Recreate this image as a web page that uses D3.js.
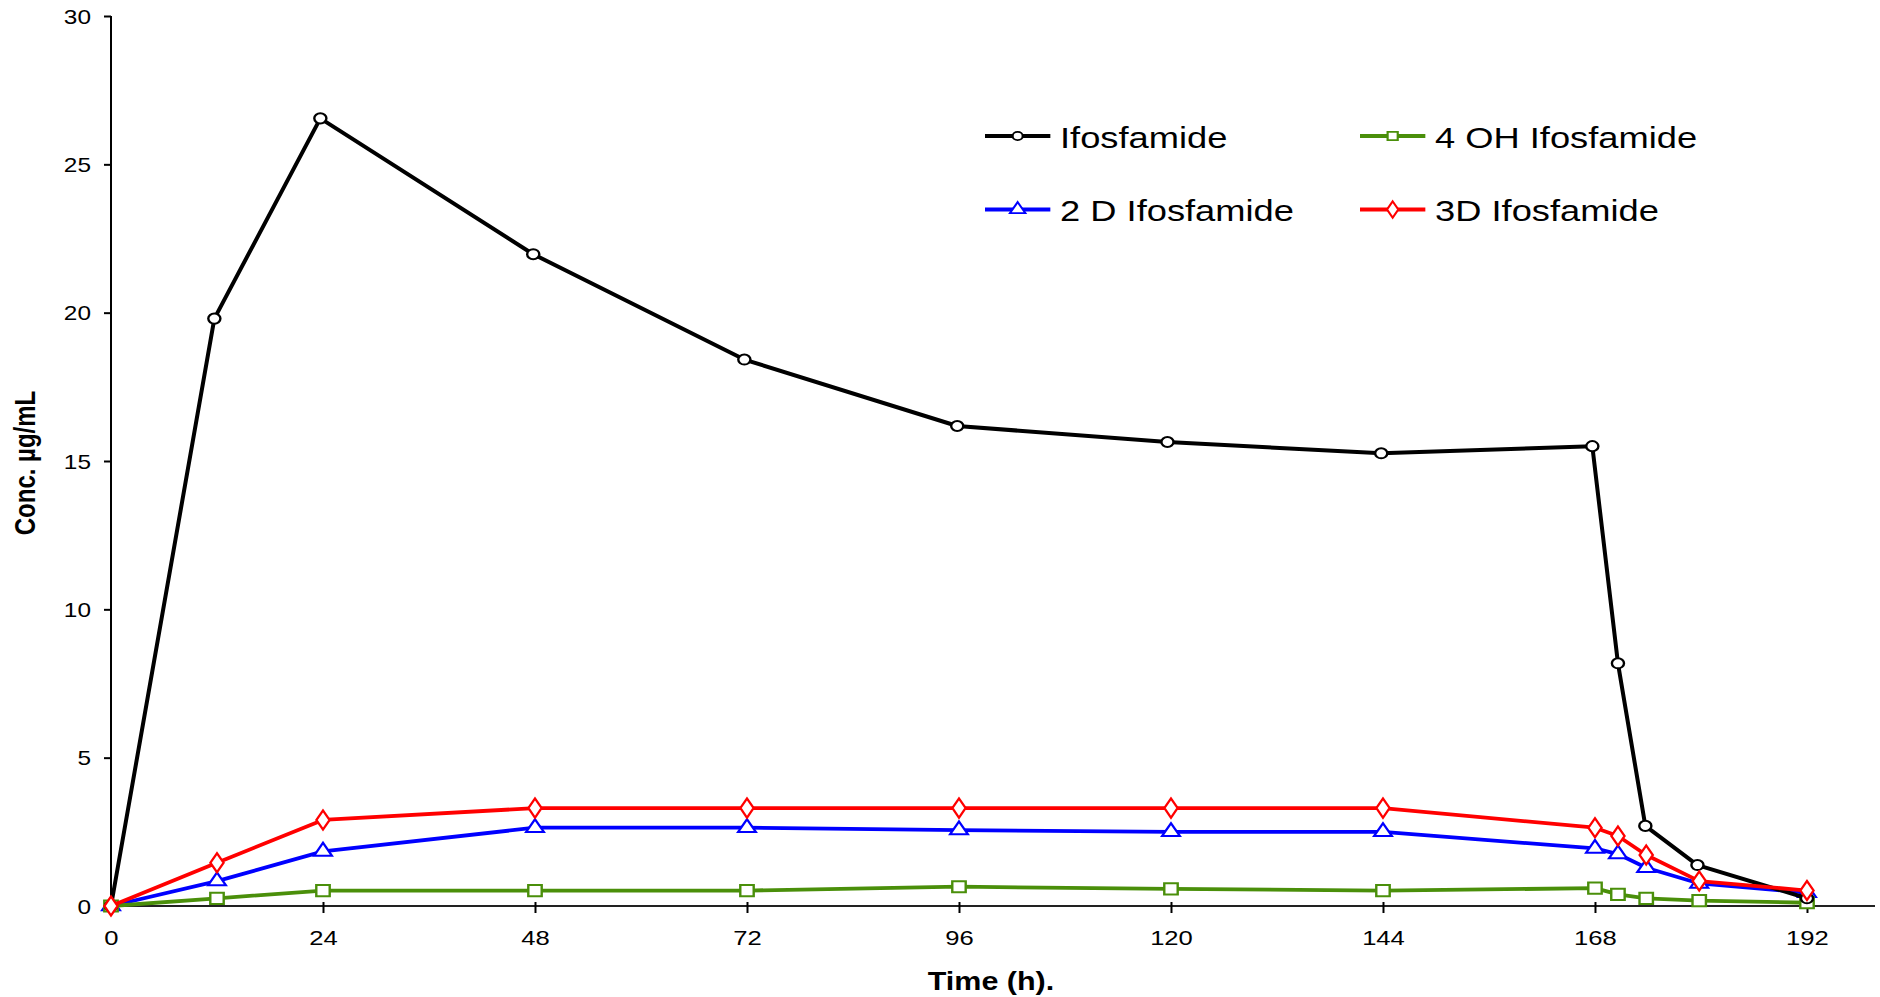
<!DOCTYPE html>
<html>
<head>
<meta charset="utf-8">
<script src="https://cdn.jsdelivr.net/npm/d3@7"></script>
<style>
  html, body { margin: 0; padding: 0; background: #fff; }
  svg { display: block; }
  text { font-family: "Liberation Sans", Arial, sans-serif; fill: #000; }
</style>
</head>
<body>
<svg id="chart" width="1880" height="997"></svg>
<script>
// ---- Data ----
const timeIfos = [0, 11.7, 23.7, 47.8, 71.7, 95.8, 119.6, 143.8, 167.7, 170.6, 173.7, 179.6, 192];
const ifosfamide = [0, 19.8, 26.55, 21.97, 18.42, 16.18, 15.64, 15.26, 15.5, 8.18, 2.70, 1.38, 0.26];

const timeMet = [0, 12, 24, 48, 72, 96, 120, 144, 168, 170.6, 173.8, 179.8, 192];
const oh4Ifosfamide = [0, 0.26, 0.52, 0.52, 0.52, 0.65, 0.58, 0.52, 0.6, 0.39, 0.26, 0.18, 0.11];
const d2Ifosfamide = [0, 0.84, 1.84, 2.64, 2.64, 2.56, 2.50, 2.50, 1.94, 1.75, 1.29, 0.76, 0.45];
const d3Ifosfamide = [0, 1.46, 2.9, 3.3, 3.3, 3.3, 3.3, 3.3, 2.64, 2.36, 1.72, 0.84, 0.52];

const xTicks = [0, 24, 48, 72, 96, 120, 144, 168, 192];
const yTicks = [0, 5, 10, 15, 20, 25, 30];

const seriesNames = ["Ifosfamide", "4 OH Ifosfamide", "2 D Ifosfamide", "3D Ifosfamide"];
const seriesColors = ["#000000", "#4a8f0a", "#0000ff", "#ff0000"];
const seriesSymbols = ["circle", "square", "triangle", "diamond"];

const xTitle = "Time (h).";
const yTitle = "Conc. µg/mL";

// ---- Layout ----
const svg = d3.select("#chart");
const x = d3.scaleLinear().domain([0, 199.7]).range([111, 1875]);
const y = d3.scaleLinear().domain([0, 30]).range([906, 16]);
const SX = 1.22;   // horizontal stretch of axis text in the original
const LSX = 1.21;  // horizontal stretch of the legend

const series = [
  { name: seriesNames[0], t: timeIfos, v: ifosfamide, color: seriesColors[0], sym: seriesSymbols[0] },
  { name: seriesNames[1], t: timeMet, v: oh4Ifosfamide, color: seriesColors[1], sym: seriesSymbols[1] },
  { name: seriesNames[2], t: timeMet, v: d2Ifosfamide, color: seriesColors[2], sym: seriesSymbols[2] },
  { name: seriesNames[3], t: timeMet, v: d3Ifosfamide, color: seriesColors[3], sym: seriesSymbols[3] }
];

const symType = { circle: d3.symbolCircle, square: d3.symbolSquare, triangle: d3.symbolTriangle, diamond: d3.symbolDiamond };
const symSize = { circle: 80, square: 125, triangle: 95, diamond: 105 };
const legSize = { circle: 55, square: 70, triangle: 70, diamond: 76 };

// ---- Axes ----
const xAxis = svg.append("g").attr("transform", `translate(0,${y(0)})`)
  .call(d3.axisBottom(x).tickValues(xTicks).tickSize(7).tickSizeOuter(0));
xAxis.select(".domain").attr("stroke", "#222").attr("stroke-width", 2)
  .attr("d", `M${x.range()[0]},0H${x.range()[1]}`);
xAxis.selectAll(".tick line").attr("stroke", "#000").attr("stroke-width", 2).attr("y1", -4).attr("y2", 7);
xAxis.selectAll(".tick text")
  .attr("y", 0).attr("dy", 0)
  .attr("transform", `translate(0,39) scale(${SX},1)`)
  .style("font-size", "21px").attr("fill", "#000");

const yAxis = svg.append("g").attr("transform", `translate(${x(0)},0)`)
  .call(d3.axisLeft(y).tickValues(yTicks).tickSize(7).tickSizeOuter(0));
yAxis.select(".domain").attr("stroke", "#000").attr("stroke-width", 2)
  .attr("d", `M0,${y.range()[0]}V${y.range()[1]}`);
yAxis.selectAll(".tick line").attr("stroke", "#000").attr("stroke-width", 2);
yAxis.selectAll(".tick text")
  .attr("x", 0).attr("dy", "0.36em")
  .attr("transform", `translate(-20,0) scale(${SX},1)`)
  .style("font-size", "20px").attr("fill", "#000");

// Titles
svg.append("text")
  .attr("text-anchor", "middle")
  .attr("transform", `translate(991,990) scale(${SX},1)`)
  .style("font-size", "25px").style("font-weight", "bold")
  .text(xTitle);
svg.append("text")
  .attr("text-anchor", "middle")
  .attr("transform", `translate(35,463) scale(${SX},1) rotate(-90)`)
  .style("font-size", "24px").style("font-weight", "bold")
  .text(yTitle);

// ---- Lines & markers ----
const drawOrder = [2, 1, 0, 3];
const line = d3.line().x(d => x(d[0])).y(d => y(d[1]));
drawOrder.forEach(i => {
  const s = series[i];
  const pts = s.t.map((t, k) => [t, s.v[k]]);
  const g = svg.append("g");
  g.append("path").attr("d", line(pts)).attr("fill", "none")
    .attr("stroke", s.color).attr("stroke-width", i === 0 ? 4 : 3.8)
    .attr("stroke-linejoin", "round");
  g.selectAll("path.m").data(pts).enter().append("path").attr("class", "m")
    .attr("d", d3.symbol().type(symType[s.sym]).size(symSize[s.sym])())
    .attr("transform", d => `translate(${x(d[0])},${y(d[1])}) scale(1.2,1)`)
    .attr("fill", "#fff").attr("stroke", s.color).attr("stroke-width", 2);
});

// ---- Legend ----
const legCols = [985, 1360];
const legRows = [136, 209.5];
series.forEach((s, i) => {
  const cx = legCols[i % 2], cy = legRows[Math.floor(i / 2)];
  const g = svg.append("g").attr("transform", `translate(${cx},${cy}) scale(${LSX},1)`);
  g.append("line").attr("x1", 0).attr("x2", 54).attr("y1", 0).attr("y2", 0)
    .attr("stroke", s.color).attr("stroke-width", 3.8);
  g.append("path").attr("d", d3.symbol().type(symType[s.sym]).size(legSize[s.sym])())
    .attr("transform", "translate(27,0)")
    .attr("fill", "#fff").attr("stroke", s.color).attr("stroke-width", 1.8);
  g.append("text").attr("x", 62).attr("y", 11.5)
    .style("font-size", "30px").text(s.name);
});
</script>
</body>
</html>
